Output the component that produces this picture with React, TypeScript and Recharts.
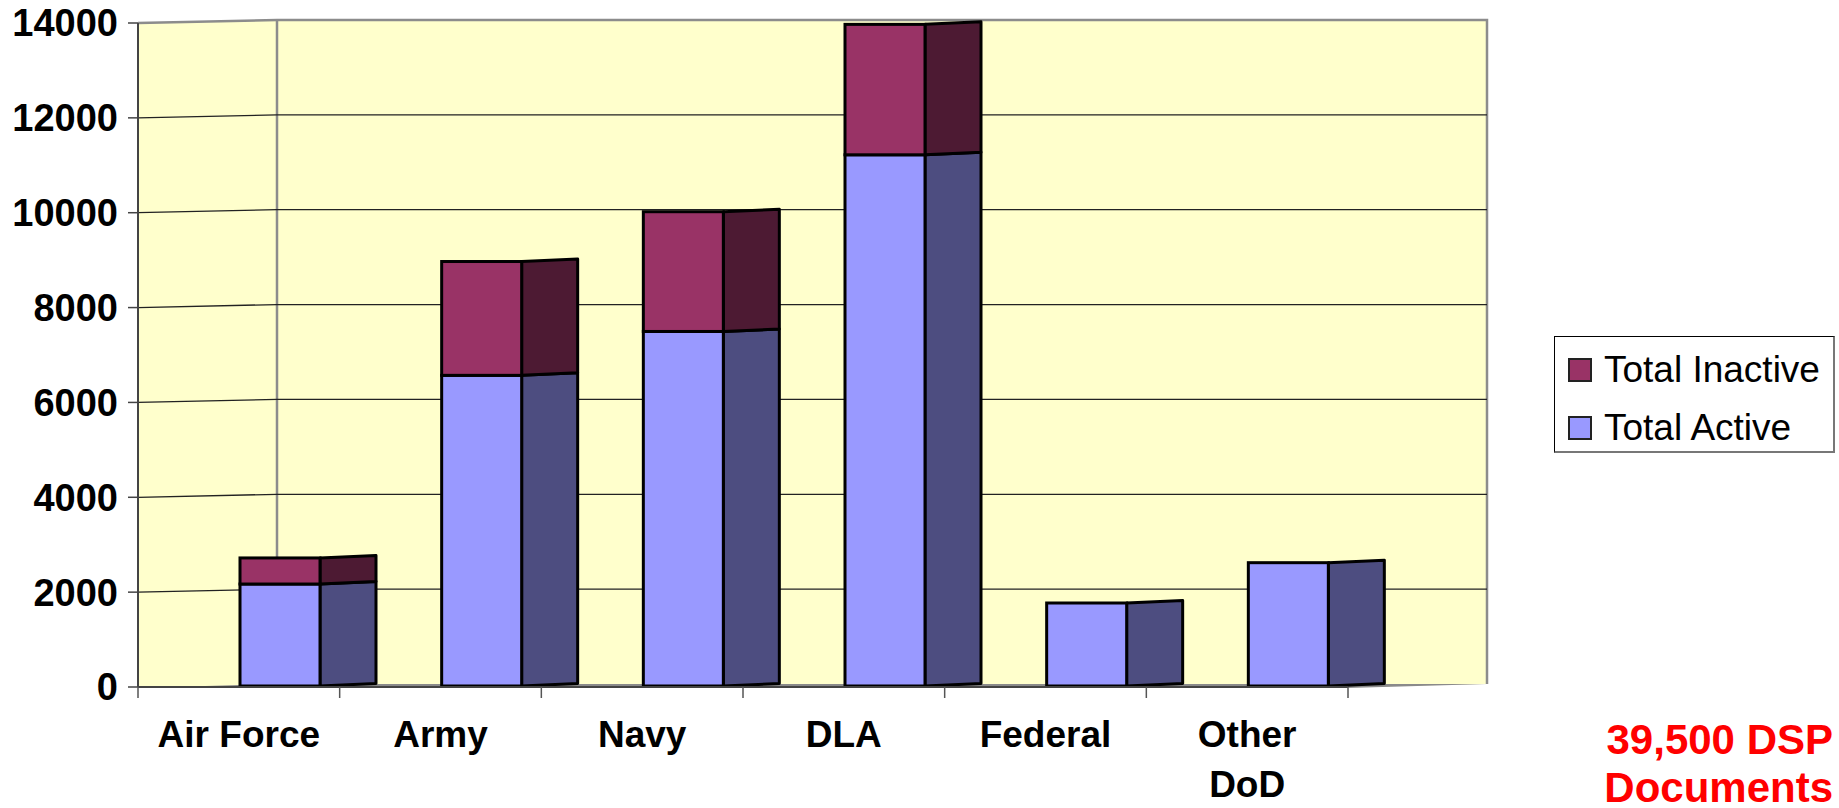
import React from "react";
import { Bar, BarChart, CartesianGrid, Legend, XAxis, YAxis } from "recharts";

const categories = ["Air Force", "Army", "Navy", "DLA", "Federal", "Other\nDoD"];
const totalActive = [2150, 6550, 7475, 11200, 1750, 2600];
const totalInactive = [550, 2400, 2525, 2750, 0, 0];
const yTicks = [0, 2000, 4000, 6000, 8000, 10000, 12000, 14000];

const data = categories.map((name, i) => ({
  name,
  active: totalActive[i],
  inactive: totalInactive[i],
}));

const FONT = '"Liberation Sans", Arial, sans-serif';
const W = 1839;
const H = 808;
const PLOT_LEFT = 138;
const PLOT_RIGHT = 1348;
const PLOT_TOP = 23;
const PLOT_BOTTOM = 687;
// oblique depth of the back wall
const DEPTH_DX = 139;
const DEPTH_DY = -3;
// bar placement inside the depth
const BAR_DX = 41;
const BAR_DY = -1;
const SIDE_DX = 56;
const SIDE_DY = -2.5;

const ACTIVE_FRONT = "#9999FF";
const ACTIVE_SIDE = "#4D4D80";
const INACTIVE_FRONT = "#993366";
const INACTIVE_SIDE = "#4D1A33";

function Bar3D(props: any) {
  const { x, y, width, height, front, side } = props;
  if (!height || height <= 0) return null;
  const fx = x + BAR_DX;
  const fy = y + BAR_DY;
  const rx = fx + width;
  const pts = [
    [rx, fy],
    [rx + SIDE_DX, fy + SIDE_DY],
    [rx + SIDE_DX, fy + height + SIDE_DY],
    [rx, fy + height],
  ]
    .map((p) => p.join(","))
    .join(" ");
  return (
    <g>
      <polygon points={pts} fill={side} stroke="#000" strokeWidth={3} strokeLinejoin="round" />
      <rect x={fx} y={fy} width={width} height={height} fill={front} stroke="#000" strokeWidth={3} />
    </g>
  );
}

function CategoryTick(props: any) {
  const { x, payload, index } = props;
  const bw = (PLOT_RIGHT - PLOT_LEFT) / categories.length;
  const lines = String(payload.value).split("\n");
  return (
    <g>
      <line x1={x - bw / 2} x2={x - bw / 2} y1={PLOT_BOTTOM} y2={PLOT_BOTTOM + 11} stroke="#555" strokeWidth={1.5} />
      {index === categories.length - 1 && (
        <line x1={x + bw / 2} x2={x + bw / 2} y1={PLOT_BOTTOM} y2={PLOT_BOTTOM + 11} stroke="#555" strokeWidth={1.5} />
      )}
      <text x={x} y={PLOT_BOTTOM + 60} textAnchor="middle" fill="#000" fontSize={37} fontWeight={700} fontFamily={FONT}>
        {lines.map((ln, i) => (
          <tspan key={i} x={x} dy={i === 0 ? 0 : 50}>
            {ln}
          </tspan>
        ))}
      </text>
    </g>
  );
}

const renderGridLine = (p: any) => {
  const { x1, x2, y1, index } = p;
  if (y1 > PLOT_BOTTOM - 2 || y1 < PLOT_TOP + 2) return <g key={`gl-${index}`} />;
  return (
    <polyline
      key={`gl-${index}`}
      points={`${x1},${y1} ${x1 + DEPTH_DX},${y1 + DEPTH_DY} ${x2 + DEPTH_DX},${y1 + DEPTH_DY}`}
      fill="none"
      stroke="#222"
      strokeWidth={1.3}
    />
  );
};

function LegendBox({ payload }: any) {
  const items = [...(payload ?? [])].reverse();
  return (
    <div
      style={{
        boxSizing: "border-box",
        width: 281,
        height: 117,
        border: "1px solid #000",
        borderRightColor: "#777",
        borderBottomColor: "#777",
        borderRightWidth: 2,
        borderBottomWidth: 2,
        background: "#fff",
        paddingTop: 4,
        paddingLeft: 13,
        fontFamily: FONT,
        fontSize: 37,
        color: "#000",
      }}
    >
      {items.map((it: any) => (
        <div key={it.value} style={{ display: "flex", alignItems: "center", height: 58 }}>
          <span
            style={{
              boxSizing: "border-box",
              width: 24,
              height: 24,
              background: it.color,
              border: "2px solid #222",
              marginRight: 12,
            }}
          />
          <span>{it.value}</span>
        </div>
      ))}
    </div>
  );
}

function Walls() {
  const bx1 = PLOT_LEFT + DEPTH_DX;
  const bx2 = PLOT_RIGHT + DEPTH_DX;
  const by1 = PLOT_TOP + DEPTH_DY;
  const by2 = PLOT_BOTTOM + DEPTH_DY;
  return (
    <svg width={W} height={H} style={{ position: "absolute", left: 0, top: 0 }}>
      <polygon
        points={`${PLOT_LEFT},${PLOT_TOP} ${bx1},${by1} ${bx2},${by1} ${bx2},${by2} ${PLOT_RIGHT},${PLOT_BOTTOM} ${PLOT_LEFT},${PLOT_BOTTOM}`}
        fill="#FFFFCC"
      />
      <polygon
        points={`${PLOT_LEFT},${PLOT_BOTTOM + 1} ${PLOT_RIGHT},${PLOT_BOTTOM + 1} ${bx2},${by2} ${bx1},${by2}`}
        fill="#8a8a8a"
      />
      <polyline
        points={`${PLOT_LEFT},${PLOT_TOP} ${bx1},${by1} ${bx2},${by1} ${bx2},${by2}`}
        fill="none"
        stroke="#8c8c8c"
        strokeWidth={2.5}
      />
      <line x1={bx1} x2={bx1} y1={by1} y2={by2} stroke="#8c8c8c" strokeWidth={2.5} />
    </svg>
  );
}

export default function App() {
  return (
    <div style={{ position: "absolute", left: 0, top: 0, width: W, height: H, background: "#fff", fontFamily: FONT }}>
      <Walls />
      <div style={{ position: "absolute", left: 0, top: 0 }}>
        <BarChart
          width={W}
          height={H}
          data={data}
          margin={{ top: PLOT_TOP, left: PLOT_LEFT - 130, right: W - PLOT_RIGHT, bottom: H - PLOT_BOTTOM - 100 }}
          barSize={80}
        >
          <CartesianGrid vertical={false} horizontal={renderGridLine} />
          <XAxis
            dataKey="name"
            interval={0}
            height={100}
            tickLine={false}
            tickSize={0}
            tickMargin={0}
            axisLine={{ stroke: "#444", strokeWidth: 2 }}
            tick={<CategoryTick />}
          />
          <YAxis
            type="number"
            domain={[0, 14000]}
            ticks={yTicks}
            interval={0}
            width={130}
            tickSize={10}
            tickMargin={10}
            axisLine={{ stroke: "#444", strokeWidth: 2 }}
            tickLine={{ stroke: "#444", strokeWidth: 1.5 }}
            tick={{ fill: "#000", fontSize: 38, fontWeight: 700, fontFamily: FONT }}
          />
          <Legend
            content={<LegendBox />}
            verticalAlign="middle"
            align="center"
            layout="vertical"
            wrapperStyle={{ left: 1554, top: 336, width: 281, height: 117 }}
          />
          <Bar
            dataKey="active"
            name="Total Active"
            stackId="s"
            fill={ACTIVE_FRONT}
            isAnimationActive={false}
            shape={(p: any) => <Bar3D {...p} front={ACTIVE_FRONT} side={ACTIVE_SIDE} />}
          />
          <Bar
            dataKey="inactive"
            name="Total Inactive"
            stackId="s"
            fill={INACTIVE_FRONT}
            isAnimationActive={false}
            shape={(p: any) => <Bar3D {...p} front={INACTIVE_FRONT} side={INACTIVE_SIDE} />}
          />
        </BarChart>
      </div>
      <div
        style={{
          position: "absolute",
          left: 1450,
          top: 716,
          width: 383,
          textAlign: "right",
          color: "#FF0000",
          fontFamily: FONT,
          fontWeight: 700,
          fontSize: 42,
          lineHeight: "48px",
          whiteSpace: "nowrap",
        }}
      >
        39,500 DSP
        <br />
        Documents
      </div>
    </div>
  );
}
